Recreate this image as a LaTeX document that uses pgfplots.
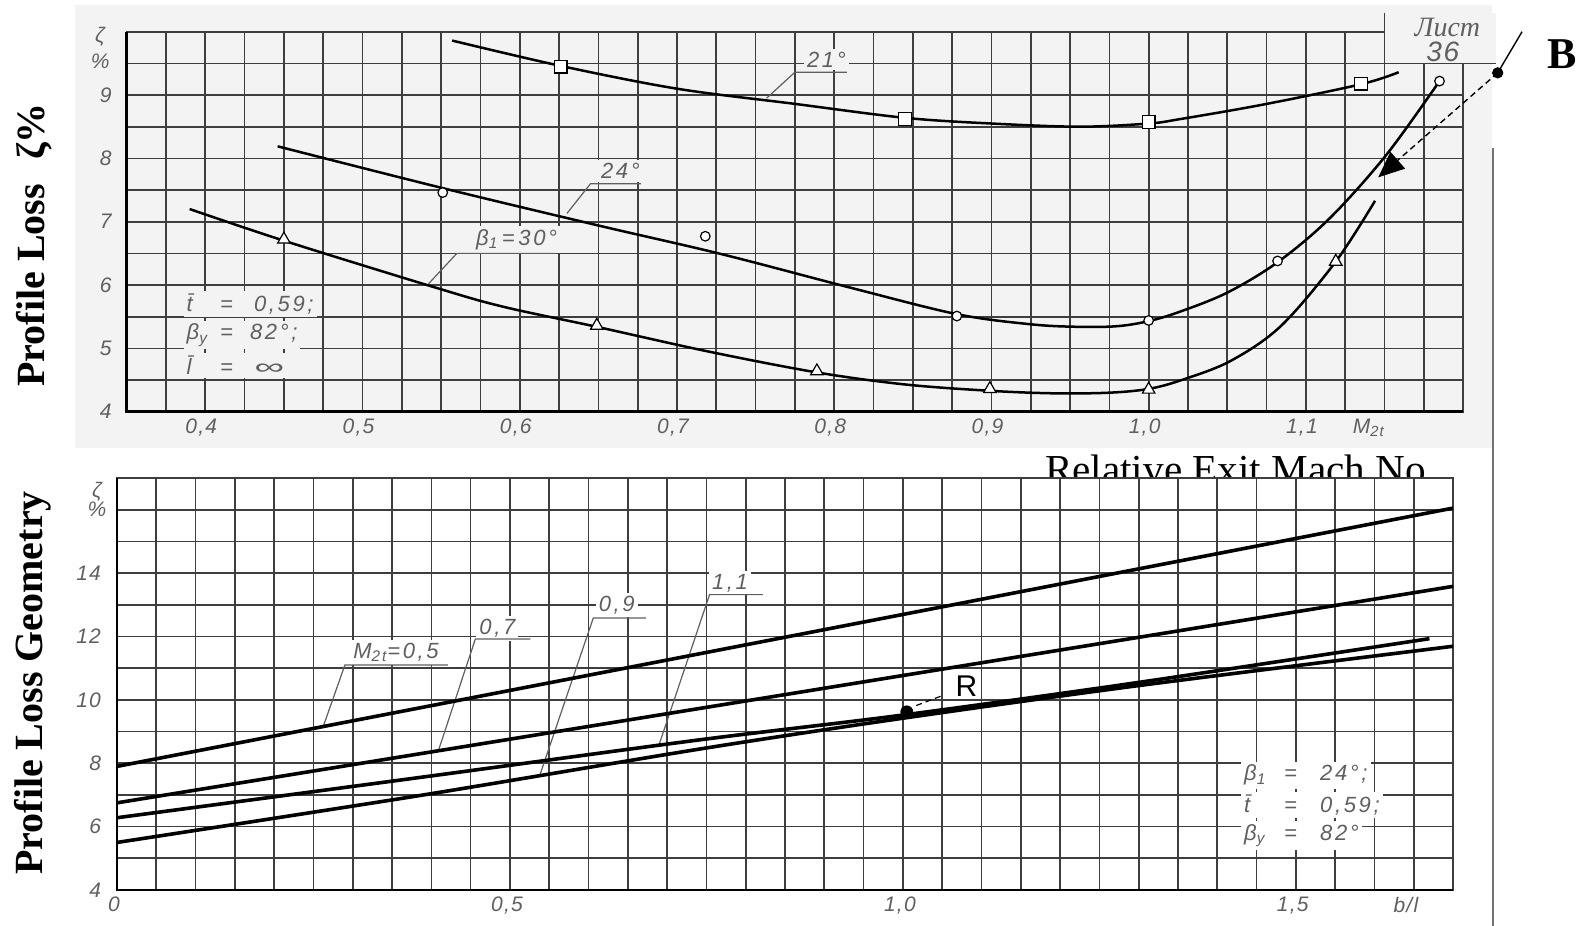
\documentclass[border=0pt]{standalone}
\usepackage{fontspec}
\usepackage{graphicx}
\usepackage{pgfplots}
\pgfplotsset{compat=1.18}
\usetikzlibrary{arrows.meta}
\setmainfont{Liberation Serif}
\newfontfamily\gost{Liberation Sans}[LetterSpace=6]
\newfontfamily\gostw{Liberation Sans}[LetterSpace=12]
\newfontfamily\plainsans{Liberation Sans}
\newfontfamily\stampfont{Liberation Serif}
\definecolor{scanbg}{RGB}{243,243,243}
\definecolor{gridc}{RGB}{62,62,62}
\definecolor{anno}{RGB}{95,95,95}
\newcommand{\tl}{\gost\itshape\fontsize{10.5}{12}\selectfont}
\newcommand{\an}{\gostw\itshape\fontsize{11}{13}\selectfont}
\pgfplotsset{
  scanaxis/.style={
    scale only axis, clip=false,
    major grid style={gridc, line width=0.85pt},
    minor grid style={gridc, line width=0.85pt},
    axis line style={gridc, line width=0.85pt},
    major tick length=0pt, minor tick length=0pt,
    grid=both,
  },
  curve/.style={black, line width=1.25pt, smooth, tension=0.55, mark=none},
  bline/.style={black, line width=1.8pt, smooth, tension=0.5, mark=none},
}
\begin{document}
\begin{tikzpicture}
\useasboundingbox (0,0) rectangle (790.5pt,463pt);
\fill[scanbg] (37.5pt,239pt) rectangle (746pt,460.5pt);
\draw[black!55, line width=0.8pt] (746.5pt,0pt) -- (746.5pt,389pt);

% ---------------- top chart ----------------
\begin{axis}[scanaxis,
  at={(63.35pt,257.15pt)}, anchor=south west,
  width=668.2pt, height=190pt,
  xmin=0.35, xmax=1.2, ymin=4, ymax=10,
  xtick={0.4,0.5,0.6,0.7,0.8,0.9,1.0,1.1},
  xticklabels={{0,4},{0,5},{0,6},{0,7},{0,8},{0,9},{1,0},{1,1}},
  minor xtick={0.375,0.425,0.45,0.475,0.525,0.55,0.575,0.625,0.65,0.675,0.725,0.75,0.775,0.825,0.85,0.875,0.925,0.95,0.975,1.025,1.05,1.075,1.125,1.15,1.175},
  ytick={4,5,6,7,8,9}, yticklabels={4,5,6,7,8,9},
  minor ytick={4.5,5.5,6.5,7.5,8.5,9.5},
  xticklabel style={font=\tl, text=anno, xshift=-2pt},
  yticklabel style={font=\tl, text=anno, xshift=-4pt},
]
% label boxes (interrupt grid)
\node[anchor=west, fill=scanbg, inner sep=1.5pt, font=\an, text=anno] at (axis cs:0.386,5.70) {\makebox[16.7pt][l]{\={t}}\makebox[17pt][l]{=}0,59;};
\node[anchor=west, fill=scanbg, inner sep=1.5pt, font=\an, text=anno] at (axis cs:0.386,5.21) {\makebox[16.7pt][l]{β\textsubscript{y}}\makebox[15pt][l]{=}82°;};
\node[anchor=west, fill=scanbg, inner sep=1.5pt, font=\an, text=anno] at (axis cs:0.386,4.73) {\makebox[16.7pt][l]{\={l}}\makebox[17pt][l]{=}\scalebox{1.9}[1]{∞}};
\node[fill=scanbg, inner sep=1.5pt, font=\an, text=anno] at (axis cs:0.795,9.56) {21°};
\node[fill=scanbg, inner sep=1.5pt, font=\an, text=anno] at (axis cs:0.664,7.8) {24°};
\node[fill=scanbg, inner sep=1.5pt, font=\an, text=anno] at (axis cs:0.598,6.72) {β\textsubscript{1}\,=\,30°};
\draw[anno, line width=0.6pt] (axis cs:0.757,8.95) -- (axis cs:0.775,9.36) -- (axis cs:0.808,9.36);
\draw[anno, line width=0.6pt] (axis cs:0.630,7.13) -- (axis cs:0.645,7.6) -- (axis cs:0.677,7.6);
\draw[anno, line width=0.6pt] (axis cs:0.542,6.02) -- (axis cs:0.560,6.5) -- (axis cs:0.623,6.5);

% curves
\addplot[curve] coordinates {(0.557,9.86) (0.626,9.46) (0.7,9.1) (0.775,8.86) (0.845,8.64) (0.9,8.55) (0.956,8.50) (1.0,8.55) (1.02,8.62) (1.073,8.85) (1.135,9.17) (1.159,9.36)};
\addplot[curve] coordinates {(0.446,8.19) (0.551,7.53) (0.65,6.94) (0.728,6.49) (0.81,5.96) (0.878,5.54) (0.925,5.38) (0.955,5.34) (0.98,5.35) (1.0,5.43) (1.02,5.58) (1.05,5.88) (1.082,6.36) (1.115,7.05) (1.151,8.05) (1.185,9.22)};
\addplot[curve] coordinates {(0.39,7.2) (0.45,6.7) (0.545,5.97) (0.589,5.66) (0.649,5.34) (0.72,4.95) (0.789,4.62) (0.845,4.43) (0.899,4.33) (0.94,4.29) (0.975,4.30) (1.0,4.36) (1.021,4.5) (1.052,4.8) (1.084,5.35) (1.119,6.37) (1.144,7.33)};
% markers
\addplot[only marks, mark=square*, mark size=3.2pt, mark options={fill=white, draw=black, line width=0.6pt}] coordinates {(0.626,9.45) (0.845,8.62) (1.0,8.57) (1.135,9.18)};
\addplot[only marks, mark=*, mark size=2.4pt, mark options={fill=white, draw=black, line width=0.6pt}] coordinates {(0.551,7.46) (0.718,6.77) (0.878,5.51) (1.0,5.44) (1.082,6.38) (1.185,9.22)};
\addplot[only marks, mark=triangle*, mark size=3.6pt, mark options={fill=white, draw=black, line width=0.6pt}] coordinates {(0.45,6.72) (0.649,5.36) (0.789,4.64) (0.899,4.36) (1.0,4.35) (1.119,6.37)};

% thick axes
\draw[black, line width=1.4pt] (axis cs:0.35,10) -- (axis cs:0.35,4) -- (axis cs:1.2,4);
% stamp
\fill[scanbg] (axis cs:1.15,9.5) rectangle (axis cs:1.221,10.3);
\draw[gridc, line width=0.85pt] (axis cs:1.15,10.3) -- (axis cs:1.15,9.5) -- (axis cs:1.221,9.5);
\node[font=\stampfont\itshape\fontsize{14}{16}\selectfont, text=anno] at (axis cs:1.19,10.07) {Лист};
\node[font=\gost\itshape\fontsize{14}{16}\selectfont, text=anno] at (axis cs:1.187,9.68) {36};
% y label
\node[font=\tl, text=anno, xshift=-13.3pt] at (axis cs:0.35,9.92) {ζ};
\node[font=\tl, text=anno, xshift=-13.3pt] at (axis cs:0.35,9.53) {\%};
\node[font=\tl, text=anno, anchor=north, inner sep=3.5pt] at (axis cs:1.14,4) {M\textsubscript{2t}};
% B annotation
\draw[black, line width=0.7pt] (axis cs:1.2375,10.0) -- (axis cs:1.222,9.35);
\draw[black, line width=0.7pt, densely dashed, -{Triangle[length=13pt,width=11pt]}] (axis cs:1.222,9.35) -- (axis cs:1.146,7.7);
\addplot[only marks, mark=*, mark size=2.6pt, black] coordinates {(1.222,9.35)};
\node[font=\bfseries\fontsize{22}{26}\selectfont] at (axis cs:1.263,9.65) {B};
\end{axis}

\node[rotate=90, font=\bfseries\fontsize{20}{23}\selectfont] at (17pt,340.5pt) {Profile Loss\hspace{12pt}ζ\%};
\node[rotate=90, font=\bfseries\fontsize{20}{23}\selectfont] at (16.5pt,121.5pt) {Profile Loss Geometry};
\node[anchor=base, font=\fontsize{20.6}{24}\selectfont] at (617.75pt,221pt) {Relative Exit Mach No};

% ---------------- bottom chart ----------------
\begin{axis}[scanaxis,
  at={(58.5pt,18pt)}, anchor=south west,
  width=668pt, height=206pt,
  xmin=0, xmax=1.7, ymin=4, ymax=17,
  axis background/.style={fill=white},
  xtick={0,0.5,1.0,1.5}, xticklabels={0,{0,5},{1,0},{1,5}},
  minor xtick={0.05,0.1,0.15,0.2,0.25,0.3,0.35,0.4,0.45,0.55,0.6,0.65,0.7,0.75,0.8,0.85,0.9,0.95,1.05,1.1,1.15,1.2,1.25,1.3,1.35,1.4,1.45,1.55,1.6,1.65},
  ytick={4,6,8,10,12,14}, yticklabels={4,6,8,10,12,14},
  minor ytick={5,7,9,11,13,15,16},
  xticklabel style={font=\tl, text=anno, xshift=-1.5pt},
  yticklabel style={font=\tl, text=anno, xshift=-4.5pt},
]
\node[anchor=west, fill=white, inner sep=1.5pt, font=\an, text=anno] at (axis cs:1.43,7.62) {\makebox[20pt][l]{β\textsubscript{1}}\makebox[18pt][l]{=}24°;};
\node[anchor=west, fill=white, inner sep=1.5pt, font=\an, text=anno] at (axis cs:1.43,6.67) {\makebox[20pt][l]{\={t}}\makebox[18pt][l]{=}0,59;};
\node[anchor=west, fill=white, inner sep=1.5pt, font=\an, text=anno] at (axis cs:1.43,5.72) {\makebox[20pt][l]{β\textsubscript{y}}\makebox[18pt][l]{=}82°};
\node[fill=white, inner sep=1.5pt, font=\an, text=anno] at (axis cs:0.355,11.5) {M\textsubscript{2t}=0,5};
\node[fill=white, inner sep=1.5pt, font=\an, text=anno] at (axis cs:0.484,12.25) {0,7};
\node[fill=white, inner sep=1.5pt, font=\an, text=anno] at (axis cs:0.636,13.0) {0,9};
\node[fill=white, inner sep=1.5pt, font=\an, text=anno] at (axis cs:0.78,13.68) {1,1};
\draw[anno, line width=0.6pt] (axis cs:0.262,9.13) -- (axis cs:0.29,11.1) -- (axis cs:0.421,11.1);
\draw[anno, line width=0.6pt] (axis cs:0.409,8.4) -- (axis cs:0.456,11.92) -- (axis cs:0.526,11.92);
\draw[anno, line width=0.6pt] (axis cs:0.538,7.62) -- (axis cs:0.606,12.58) -- (axis cs:0.673,12.58);
\draw[anno, line width=0.6pt] (axis cs:0.69,8.6) -- (axis cs:0.754,13.32) -- (axis cs:0.822,13.32);

\addplot[bline] coordinates {(0,7.9) (1.7,16.05)};
\addplot[bline] coordinates {(0,6.75) (1.7,13.58)};
\addplot[bline] coordinates {(0,6.28) (0.385,7.55) (0.742,8.74) (1.0,9.52) (1.3,10.55) (1.67,11.93)};
\addplot[bline] coordinates {(0,5.5) (0.385,6.98) (0.742,8.45) (1.0,9.42) (1.3,10.45) (1.7,11.69)};

\addplot[only marks, mark=*, mark size=3pt, black] coordinates {(1.005,9.62)};
\draw[black, line width=0.6pt, densely dashed] (axis cs:1.017,9.82) -- (axis cs:1.052,10.15);
\node[font=\plainsans\fontsize{15}{18}\selectfont] at (axis cs:1.081,10.42) {R};

\draw[black, line width=1.4pt] (axis cs:0,17) -- (axis cs:0,4) -- (axis cs:1.7,4);
\node[font=\tl, text=anno, xshift=-10pt] at (axis cs:0,16.55) {ζ};
\node[font=\tl, text=anno, xshift=-10pt] at (axis cs:0,16.0) {\%};
\node[font=\tl, text=anno, anchor=north, inner sep=3.5pt] at (axis cs:1.64,4) {b/l};
\end{axis}
\end{tikzpicture}
\end{document}
